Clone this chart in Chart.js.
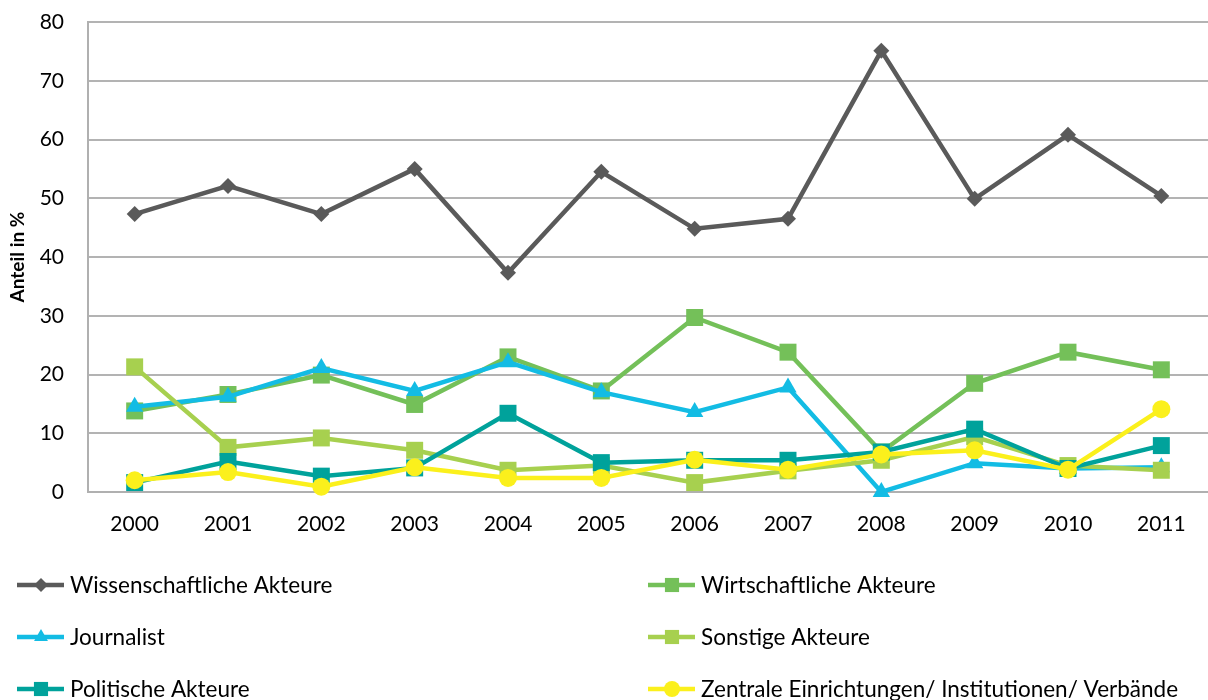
<!DOCTYPE html>
<html>
<head>
<meta charset="utf-8">
<script src="https://cdn.jsdelivr.net/npm/chart.js@4/dist/chart.umd.min.js"></script>
<style>
  html, body { margin: 0; padding: 0; background: #fff; }
  #wrap { width: 1208px; height: 700px; }
</style>
</head>
<body>
<div id="wrap"><canvas id="c" width="1208" height="700"></canvas></div>
<script>
// Jahre (Kategorien)
const years = ['2000', '2001', '2002', '2003', '2004', '2005', '2006', '2007', '2008', '2009', '2010', '2011'];

// Anteile in % je Akteursgruppe
const wissenschaft = [47.3, 52.1, 47.3, 55.0, 37.3, 54.5, 44.8, 46.5, 75.1, 49.9, 60.8, 50.4];
const wirtschaft   = [13.8, 16.6, 19.9, 14.9, 23.0, 17.2, 29.7, 23.8, 6.8, 18.5, 23.8, 20.8];
const journalist   = [14.5, 16.2, 21.1, 17.2, 22.1, 17.0, 13.6, 17.8, 0.0, 4.9, 4.0, 4.2];
const sonstige     = [21.3, 7.6, 9.2, 7.1, 3.7, 4.5, 1.6, 3.6, 5.4, 9.4, 4.5, 3.7];
const politik      = [1.6, 5.2, 2.7, 4.1, 13.4, 5.0, 5.4, 5.4, 6.8, 10.7, 4.0, 7.9];
const zentrale     = [2.0, 3.4, 0.9, 4.2, 2.4, 2.4, 5.5, 3.8, 6.4, 7.1, 3.8, 14.1];

// Achsenbeschriftung
const yTicks = [0, 10, 20, 30, 40, 50, 60, 70, 80];
const yTitle = 'Anteil in %';

const seriesNames = [
  'Wissenschaftliche Akteure',
  'Wirtschaftliche Akteure',
  'Journalist',
  'Sonstige Akteure',
  'Politische Akteure',
  'Zentrale Einrichtungen/ Institutionen/ Verbände'
];

const FONT = 'Lato, "Open Sans", sans-serif';

function series(label, data, color, style, radius, order) {
  return {
    label, data,
    borderColor: color,
    backgroundColor: color,
    pointBackgroundColor: color,
    pointBorderColor: color,
    pointBorderWidth: 0,
    pointStyle: style,
    pointRadius: radius,
    pointHoverRadius: radius,
    borderWidth: 4.5,
    tension: 0,
    clip: false,
    order
  };
}

// Legende in zwei Spalten unter dem Diagramm
const legendPlugin = {
  id: 'twoColLegend',
  afterDraw(chart) {
    const ctx = chart.ctx;
    const cols = [17, 648];
    const rows = [585, 637, 689];
    const legendRadius = { rectRot: 7, rect: 10, triangle: 8, circle: 8 };
    chart.data.datasets.forEach((ds, i) => {
      const x0 = cols[i % 2];
      const y = rows[Math.floor(i / 2)];
      ctx.save();
      ctx.strokeStyle = ds.borderColor;
      ctx.lineWidth = 4.5;
      ctx.beginPath();
      ctx.moveTo(x0, y);
      ctx.lineTo(x0 + 47, y);
      ctx.stroke();
      ctx.fillStyle = ds.borderColor;
      ctx.strokeStyle = ds.borderColor;
      Chart.helpers.drawPoint(ctx, {
        pointStyle: ds.pointStyle,
        radius: legendRadius[ds.pointStyle],
        rotation: 0,
        borderWidth: 0
      }, x0 + 24, y);
      ctx.fillStyle = '#000';
      ctx.font = '22.5px ' + FONT;
      ctx.textBaseline = 'middle';
      ctx.textAlign = 'left';
      ctx.fillText(ds.label, x0 + 53, y + 1);
      ctx.restore();
    });
  }
};

new Chart(document.getElementById('c'), {
  type: 'line',
  data: {
    labels: years,
    datasets: [
      series(seriesNames[0], wissenschaft, '#5a5a5a', 'rectRot', 8, 6),
      series(seriesNames[1], wirtschaft, '#74c059', 'rect', 12, 5),
      series(seriesNames[2], journalist, '#13bce4', 'triangle', 10, 4),
      series(seriesNames[3], sonstige, '#a7d04f', 'rect', 12, 3),
      series(seriesNames[4], politik, '#00a29b', 'rect', 12, 2),
      series(seriesNames[5], zentrale, '#fbf01c', 'circle', 9, 1)
    ]
  },
  options: {
    responsive: false,
    animation: false,
    events: [],
    layout: { autoPadding: false, padding: { top: 22, right: 0, bottom: 160, left: 0 } },
    plugins: {
      legend: { display: false },
      tooltip: { enabled: false }
    },
    scales: {
      x: {
        type: 'category',
        offset: true,
        grid: { display: false, drawTicks: false },
        border: { display: true, color: '#b0b0b0', width: 2 },
        ticks: {
          padding: 20,
          color: '#000',
          font: { family: FONT, size: 21 },
          maxRotation: 0
        },
        afterFit(s) {
          s.height = 48;
          s.paddingLeft = 0;
          s.paddingRight = 0;
        }
      },
      y: {
        min: 0,
        max: 80,
        afterBuildTicks(s) { s.ticks = yTicks.map(v => ({ value: v })); },
        grid: { color: '#b3b3b3', lineWidth: 2, drawTicks: false },
        border: { display: true, color: '#b0b0b0', width: 2 },
        ticks: {
          padding: 24,
          color: '#000',
          font: { family: FONT, size: 21 }
        },
        title: {
          display: true,
          text: yTitle,
          color: '#000',
          font: { family: FONT, size: 19, weight: 'bold' },
          padding: { top: 6, bottom: 0 }
        },
        afterFit(s) {
          s.width = 88;
          s.paddingTop = 0;
          s.paddingBottom = 0;
        }
      }
    }
  },
  plugins: [legendPlugin]
});
</script>
</body>
</html>
